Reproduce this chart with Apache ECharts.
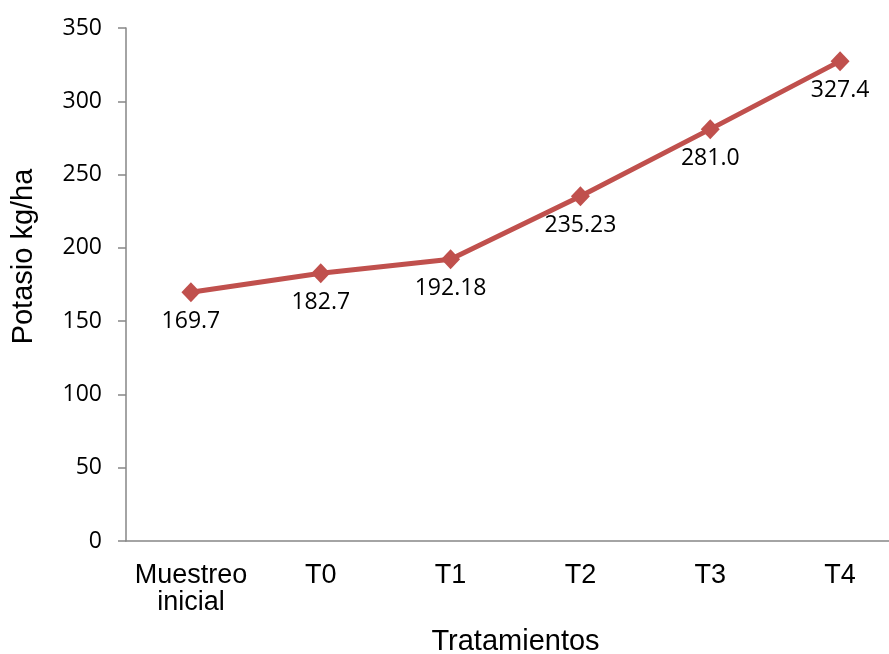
<!DOCTYPE html>
<html>
<head>
<meta charset="utf-8">
<script src="https://cdn.jsdelivr.net/npm/echarts@6/dist/echarts.min.js"></script>
<style>
  html, body { margin: 0; padding: 0; background: #fff; }
  #chart { width: 889px; height: 654px; }
</style>
</head>
<body>
<div id="chart"></div>
<script>
const categories = ['Muestreo\ninicial', 'T0', 'T1', 'T2', 'T3', 'T4']
const potasio = [169.7, 182.7, 192.18, 235.23, 281.0, 327.4]
const labelText = ['169.7', '182.7', '192.18', '235.23', '281.0', '327.4']

const red = '#c0504d'
const axisGrey = '#868686'
const numFont = '"Open Sans", sans-serif'
const textFont = '"Liberation Sans", Arial, sans-serif'

const chart = echarts.init(document.getElementById('chart'))
chart.setOption({
  animation: false,
  // grid runs past the right edge, like the original
  grid: { left: 126, width: 779, top: 28, bottom: 113, outerBoundsMode: 'none', containLabel: false },
  xAxis: {
    type: 'category',
    data: categories,
    boundaryGap: true,
    name: 'Tratamientos',
    nameLocation: 'middle',
    nameGap: 86,
    nameTextStyle: { fontFamily: textFont, fontSize: 29, color: '#000' },
    axisLine: { lineStyle: { color: axisGrey, width: 1.5 } },
    axisTick: { show: false },
    axisLabel: { color: '#000', fontFamily: textFont, fontSize: 27, lineHeight: 27, margin: 21, interval: 0 },
  },
  yAxis: {
    type: 'value',
    min: 0, max: 350, interval: 50,
    name: 'Potasio kg/ha',
    nameLocation: 'middle',
    nameGap: 88,
    nameTextStyle: { fontFamily: textFont, fontSize: 29, color: '#000', padding: [0, 0, 0, 56] },
    axisLine: { show: true, lineStyle: { color: axisGrey, width: 1.5 } },
    axisTick: { show: true, length: 8, lineStyle: { color: axisGrey, width: 1.5 } },
    splitLine: { show: false },
    axisLabel: { color: '#000', fontFamily: numFont, fontSize: 23, margin: 24 },
  },
  series: [{
    type: 'line',
    data: potasio,
    symbol: 'diamond',
    symbolSize: [19, 20],
    lineStyle: { color: red, width: 5 },
    itemStyle: { color: red },
    label: {
      show: true,
      position: 'bottom',
      distance: 8,
      color: '#000',
      fontFamily: numFont,
      fontSize: 23,
      formatter: (p) => labelText[p.dataIndex],
    },
  }],
})
</script>
</body>
</html>
